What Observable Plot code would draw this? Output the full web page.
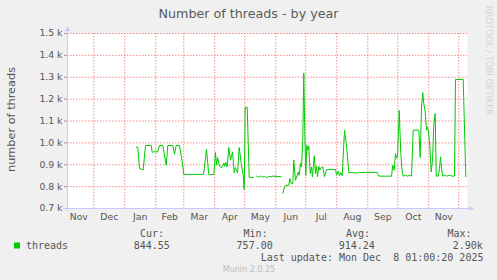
<!DOCTYPE html>
<html><head><meta charset="utf-8">
<script src="https://cdn.jsdelivr.net/npm/d3@7"></script>
<script src="https://cdn.jsdelivr.net/npm/@observablehq/plot@0.6"></script>
<style>
html,body{margin:0;padding:0;background:#f0f0f0;}
#wrap{position:relative;width:497px;height:280px;overflow:hidden;background:#f0f0f0;}
#wrap svg{position:absolute;left:0;top:0;}
</style></head><body><div id="wrap"></div>
<script>
// ---- data ----
const times = [
"2025-01-12T10","2025-01-14T00","2025-01-15T17","2025-01-19T10","2025-01-21T17","2025-01-27T10","2025-01-28T10","2025-01-29T10",
"2025-02-03T00","2025-02-04T17","2025-02-08T00","2025-02-11T10","2025-02-13T00","2025-02-18T00","2025-02-19T17","2025-02-21T10",
"2025-02-24T17","2025-02-27T10","2025-03-01T00","2025-03-20T17","2025-03-23T17","2025-03-26T00","2025-03-31T00",
"2025-04-01T17","2025-04-02T17","2025-04-03T17","2025-04-05T17","2025-04-07T17","2025-04-10T00","2025-04-11T00","2025-04-12T00",
"2025-04-13T10","2025-04-15T00","2025-04-16T17","2025-04-18T17","2025-04-20T10","2025-04-21T10","2025-04-22T17","2025-04-23T17",
"2025-04-25T10","2025-04-27T10","2025-04-29T10","2025-04-30T10","2025-05-01T10","2025-05-03T10","2025-05-05T10","2025-05-09T10",
"2025-05-11T00",
"2025-05-12T17","2025-05-14T17","2025-05-16T17","2025-05-18T17","2025-05-20T17","2025-05-22T17","2025-05-25T00","2025-05-27T00",
"2025-05-29T00","2025-06-06T10",
"2025-06-07T00",
"2025-06-08T00","2025-06-10T00","2025-06-11T00","2025-06-14T00","2025-06-15T00","2025-06-16T10","2025-06-18T00","2025-06-19T00",
"2025-06-20T17","2025-06-23T10","2025-06-24T10","2025-06-25T17","2025-06-26T17","2025-06-28T00","2025-06-29T00","2025-06-30T00",
"2025-07-01T00","2025-07-02T00","2025-07-03T00","2025-07-04T00","2025-07-05T10","2025-07-06T17","2025-07-07T17","2025-07-09T10",
"2025-07-10T17","2025-07-11T17","2025-07-12T17","2025-07-14T00","2025-07-15T00","2025-07-16T10","2025-07-18T00","2025-07-19T17",
"2025-07-21T17","2025-07-30T17","2025-07-31T17","2025-08-02T10","2025-08-03T17","2025-08-04T17","2025-08-06T10","2025-08-08T17",
"2025-08-10T10","2025-08-12T00","2025-08-13T00","2025-08-22T00","2025-08-23T00","2025-09-10T10","2025-09-12T00","2025-09-24T17",
"2025-09-26T00","2025-09-27T10","2025-09-28T17","2025-09-29T17","2025-09-30T17","2025-10-02T10","2025-10-04T00","2025-10-05T10",
"2025-10-06T10","2025-10-08T17","2025-10-10T17","2025-10-12T17","2025-10-14T17","2025-10-16T10","2025-10-22T00","2025-10-23T10",
"2025-10-24T17","2025-10-26T00","2025-10-27T00","2025-10-28T10","2025-10-29T17","2025-10-30T10","2025-10-31T10","2025-11-02T00",
"2025-11-03T10","2025-11-04T17","2025-11-06T00","2025-11-07T10","2025-11-08T10","2025-11-10T10","2025-11-11T17","2025-11-12T17",
"2025-11-14T00","2025-11-15T00","2025-11-17T00","2025-11-18T17","2025-11-21T17","2025-11-24T10","2025-11-26T17","2025-11-27T17",
"2025-12-05T10","2025-12-08T00"
];
const threads = [
980,980,883,876,988,988,956,959,
959,988,988,898,988,988,948,988,
988,913,856,856,970,855,855,
956,898,933,893,886,908,893,911,
890,979,921,959,863,887,877,863,
979,906,852,787,1162,1162,842,842,
NaN,
848,843,848,843,847,842,846,845,
848,845,
NaN,
770,802,806,806,837,814,814,921,
829,867,852,906,890,1012,1320,1050,
852,989,966,985,860,890,845,941,
860,893,845,893,875,887,890,845,
878,878,852,870,850,865,850,1058,
997,921,865,862,865,865,848,848,
898,875,951,929,940,1149,951,867,
848,852,848,852,848,1058,1058,933,
1164,1230,1180,1142,1058,1073,1058,989,
867,921,1081,1134,848,848,883,936,
875,848,852,848,852,848,848,1290,
1290,845
];
const monthStarts = ["2024-11-01","2024-12-01","2025-01-01","2025-02-01","2025-03-01","2025-04-01","2025-05-01",
"2025-06-01","2025-07-01","2025-08-01","2025-09-01","2025-10-01","2025-11-01","2025-12-01"];
const monthLabels = ["Nov","Dec","Jan","Feb","Mar","Apr","May","Jun","Jul","Aug","Sep","Oct","Nov"];
const yTicks = [700,800,900,1000,1100,1200,1300,1400,1500];
const xDomain = ["2024-11-04T17","2025-12-09T17"];
const yDomain = [700,1500];
const titleText = "Number of threads - by year";
const yLabel = "number of threads";
const seriesName = "threads";
const legendHeaders = ["Cur:","Min:","Avg:","Max:"];
const legendValues = ["844.55","757.00","914.24","2.90k"];
const lastUpdate = "Last update: Mon Dec  8 01:00:20 2025";
const footer = "Munin 2.0.25";
const watermark = "RRDTOOL / TOBI OETIKER";

// ---- build ----
const parse = d3.utcParse("%Y-%m-%dT%H");
const data = times.map((t,i)=>({date: parse(t), value: threads[i]}));
const ms = monthStarts.map(s => new Date(s + "T00:00:00Z"));
const mids = monthLabels.map((_,i)=> new Date((+ms[i] + +ms[i+1]) / 2));
const labelMap = new Map(mids.map((d,i)=>[+d, monthLabels[i]]));
const grid = "rgb(245,140,140)";
const axisCol = "#c8c8ff";
const green = "#00cc00";
const x0 = parse(xDomain[0]), x1 = parse(xDomain[1]);

const chart = Plot.plot({
  width: 497, height: 280,
  marginLeft: 67, marginRight: 30, marginTop: 33, marginBottom: 72,
  style: {background: "transparent", fontFamily: "DejaVu Sans", fontSize: "9.3px", color: "#555", overflow: "visible"},
  x: {type: "utc", domain: [x0, x1]},
  y: {domain: yDomain},
  marks: [
    Plot.frame({fill: "white", stroke: null}),
    Plot.ruleY(yTicks, {stroke: grid, strokeDasharray: "1.5,1.5"}),
    Plot.ruleX(ms.slice(1), {stroke: grid, strokeDasharray: "1.5,1.5"}),
    Plot.axisY({ticks: yTicks, tickFormat: d => (d/1000).toFixed(1) + " k", tickSize: 3, tickPadding: 2, label: null, stroke: "#999", fill: "#555"}),
    Plot.axisX({ticks: mids, tickFormat: d => labelMap.get(+d), tickSize: 0, tickPadding: 5, label: null, fill: "#555"}),
    Plot.ruleY([yDomain[0]], {stroke: axisCol}),
    Plot.ruleX([x0], {stroke: axisCol}),
    Plot.line(data, {x: "date", y: "value", stroke: green, strokeWidth: 1})
  ]
});
document.getElementById("wrap").appendChild(chart);

const xs = chart.scale("x"), ys = chart.scale("y");
const L = xs.range[0], R = xs.range[1], B = ys.range[0], T = ys.range[1];
const svg = d3.select(chart);
// axis extensions + arrows
svg.append("line").attr("x1", L - 4).attr("x2", R + 3).attr("y1", B + 0.5).attr("y2", B + 0.5).attr("stroke", axisCol);
svg.append("line").attr("x1", L + 0.5).attr("x2", L + 0.5).attr("y1", B + 3).attr("y2", T - 3).attr("stroke", axisCol);
svg.append("path").attr("d", `M${R+2},${B-2} L${R+7},${B+0.5} L${R+2},${B+3} Z`).attr("fill", axisCol);
svg.append("path").attr("d", `M${L-2},${T-2} L${L+0.5},${T-7} L${L+3},${T-2} Z`).attr("fill", axisCol);

function txt(x, y, s, o = {}) {
  const t = svg.append("text").attr("x", x).attr("y", y).text(s)
    .attr("font-family", o.family || "DejaVu Sans").attr("font-size", o.size || 10)
    .attr("fill", o.fill || "#555").attr("text-anchor", o.anchor || "start")
    .style("white-space", "pre").attr("xml:space", "preserve");
  if (o.transform) t.attr("transform", o.transform).attr("x", 0).attr("y", 0);
  return t;
}
const mono = "DejaVu Sans Mono";
txt(248.5, 18.3, titleText, {size: 12.7, anchor: "middle", fill: "#5a5a5a"});
txt(0, 0, yLabel, {size: 11.3, anchor: "middle", transform: "translate(15,119.5) rotate(-90)"});
txt(0, 0, watermark, {size: 8.5, fill: "#d4d4d4", transform: "translate(486,5.7) rotate(90)"});
const hx = [140, 243.4, 346, 447.5];
const vx = [133.7, 236.6, 338.7, 452.7];
legendHeaders.forEach((h,i)=> txt(hx[i], 236.6, h, {family: mono}));
legendValues.forEach((v,i)=> txt(vx[i], 249.2, v, {family: mono}));
svg.append("rect").attr("x", 14).attr("y", 242.5).attr("width", 6).attr("height", 6).attr("fill", green);
txt(26, 249.2, seriesName, {family: mono});
txt(260.7, 261.3, lastUpdate, {family: mono});
txt(249, 271.7, footer, {size: 8, fill: "#bbbbbb", anchor: "middle"});
</script></body></html>
